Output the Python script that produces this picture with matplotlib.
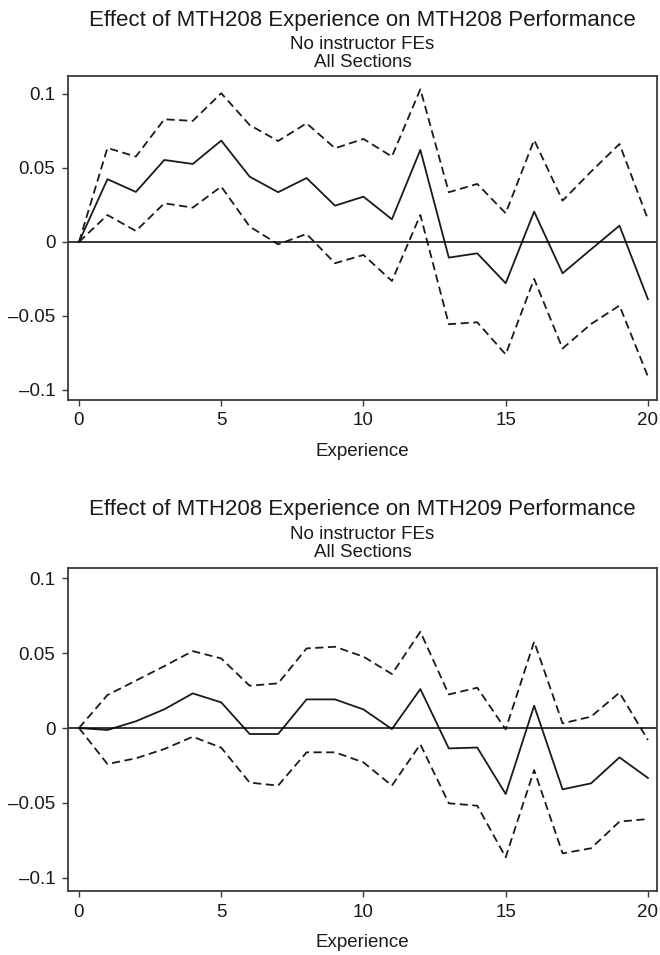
import matplotlib.pyplot as plt
import numpy as np
from matplotlib.ticker import FuncFormatter

plt.rcParams['font.family'] = ['Liberation Sans', 'DejaVu Sans']

# Experience (x axis)
experience = list(range(21))

# Panel 1: MTH208 experience -> MTH208 performance
p1_est = [0, 0.0424, 0.0338, 0.0554, 0.0527, 0.0685, 0.0441, 0.0336, 0.0432, 0.0245, 0.0306,
          0.0153, 0.0622, -0.0106, -0.0077, -0.0279, 0.0205, -0.0212, -0.0050, 0.0110, -0.0387]
p1_hi = [0, 0.0635, 0.0577, 0.0829, 0.0818, 0.1005, 0.0790, 0.0682, 0.0802, 0.0633, 0.0696,
         0.0577, 0.1032, 0.0336, 0.0392, 0.0194, 0.0689, 0.0279, 0.0475, 0.0662, 0.0153]
p1_lo = [0, 0.0182, 0.0074, 0.0261, 0.0232, 0.0374, 0.0104, -0.0016, 0.0054, -0.0144, -0.0088,
         -0.0264, 0.0182, -0.0556, -0.0543, -0.0760, -0.0250, -0.0720, -0.0555, -0.0430, -0.0910]

# Panel 2: MTH208 experience -> MTH209 performance
p2_est = [0, -0.0013, 0.0045, 0.0125, 0.0231, 0.0171, -0.0040, -0.0040, 0.0191, 0.0191, 0.0124,
          -0.0007, 0.0260, -0.0136, -0.0130, -0.0440, 0.0149, -0.0409, -0.0369, -0.0196, -0.0333]
p2_hi = [0, 0.0220, 0.0316, 0.0413, 0.0513, 0.0464, 0.0282, 0.0298, 0.0531, 0.0542, 0.0476,
         0.0360, 0.0642, 0.0224, 0.0269, -0.0009, 0.0576, 0.0031, 0.0076, 0.0236, -0.0080]
p2_lo = [0, -0.0240, -0.0202, -0.0140, -0.0058, -0.0131, -0.0364, -0.0384, -0.0162, -0.0162, -0.0229,
         -0.0384, -0.0109, -0.0502, -0.0518, -0.0862, -0.0280, -0.0836, -0.0802, -0.0624, -0.0607]

titles = ['Effect of MTH208 Experience on MTH208 Performance',
          'Effect of MTH208 Experience on MTH209 Performance']
subtitles = ['No instructor FEs', 'All Sections']
yticks = [-0.1, -0.05, 0, 0.05, 0.1]
xticks = [0, 5, 10, 15, 20]

fig = plt.figure(figsize=(6.6, 9.55), dpi=100)

panels = [
    (p1_est, p1_hi, p1_lo, [0.103, 0.5812, 0.8925, 0.3393], (-0.1068, 0.1122), 0.979),
    (p2_est, p2_hi, p2_lo, [0.103, 0.0670, 0.8925, 0.3382], (-0.1087, 0.1067), 0.466),
]

frame_col = '#3a3a3a'
line_col = '#1a1a1a'
dash = (0, (4.5, 2.5))


def fmt(v, pos):
    return f'{v:g}'.replace('-', '\u2013')


for i, (est, hi, lo, rect, ylim, title_y) in enumerate(panels):
    ax = fig.add_axes(rect)
    ax.plot(experience, est, color=line_col, lw=1.3)
    ax.plot(experience, hi, color=line_col, lw=1.3, linestyle=dash)
    ax.plot(experience, lo, color=line_col, lw=1.3, linestyle=dash)
    ax.axhline(0, color='black', lw=1.1)

    ax.set_xlim(-0.387, 20.32)
    ax.set_ylim(*ylim)
    ax.set_xticks(xticks)
    ax.set_yticks(yticks)
    ax.yaxis.set_major_formatter(FuncFormatter(fmt))
    ax.tick_params(axis='both', direction='out', length=4, width=1.0,
                   colors=frame_col, labelcolor='#1a1a1a', labelsize=13.5, pad=5)
    for sp in ax.spines.values():
        sp.set_color(frame_col)
        sp.set_linewidth(1.3)
    ax.set_xlabel('Experience', fontsize=13.5, color='#1a1a1a', labelpad=10)

    cx = rect[0] + rect[2] / 2
    fig.text(cx, title_y, titles[i], ha='center', va='center', fontsize=16, color='#1a1a1a')
    fig.text(cx, title_y - 0.0255, subtitles[0], ha='center', va='center',
             fontsize=13.5, color='#1a1a1a')
    fig.text(cx, title_y - 0.0445, subtitles[1], ha='center', va='center',
             fontsize=13.5, color='#1a1a1a')

fig.savefig('out.png', dpi=100)
